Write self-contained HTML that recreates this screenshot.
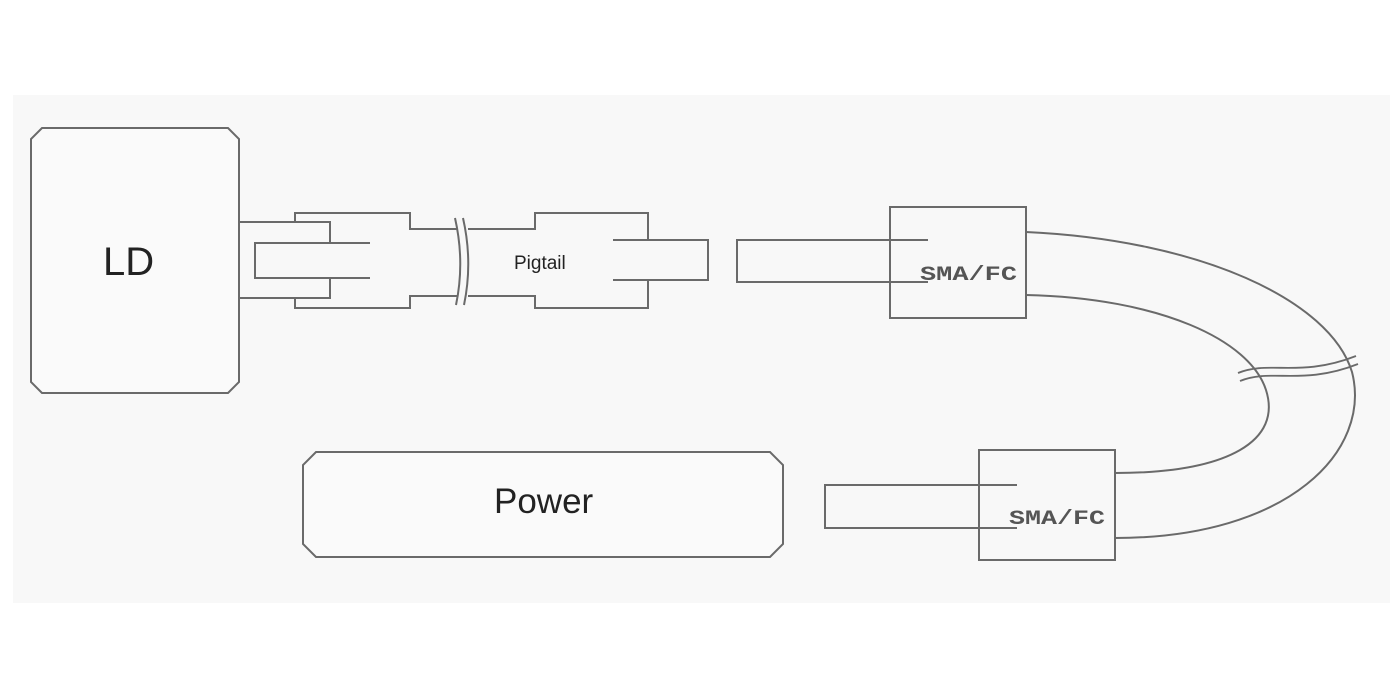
<!DOCTYPE html>
<html><head><meta charset="utf-8"><style>
html,body{margin:0;padding:0;background:#fff;width:1400px;height:700px;overflow:hidden}
svg{display:block}
</style></head><body>
<svg width="1400" height="700" viewBox="0 0 1400 700" xmlns="http://www.w3.org/2000/svg">
<rect x="0" y="0" width="1400" height="700" fill="#fff"/>
<rect x="13" y="95" width="1377" height="508" fill="#f8f8f8"/>
<g fill="none" stroke="#6a6a6a" stroke-width="2">
<path d="M42,128 L228,128 L239,139 L239,382 L228,393 L42,393 L31,382 L31,139 Z" fill="#fafafa"/>
<path d="M239,222 L330,222 L330,243 L255,243 L255,278 L330,278 L330,298 L239,298"/>
<path d="M330,243 L370,243 M330,278 L370,278"/>
<path d="M295,222 L295,213 L410,213 L410,229 L458,229"/>
<path d="M295,298 L295,308 L410,308 L410,296 L458,296"/>
<path d="M455,218 Q465,262 456,305"/>
<path d="M463,218 Q473,262 464,305"/>
<path d="M468,229 L535,229 L535,213 L648,213 L648,240 M468,296 L535,296 L535,308 L648,308 L648,280"/>
<path d="M613,240 L708,240 L708,280 L613,280"/>
<path d="M928,240 L737,240 L737,282 L928,282"/>
<rect x="890" y="207" width="136" height="111"/>
<path d="M1026,232 C1200,240 1330,300 1352,372 C1372,450 1290,538 1115,538"/>
<path d="M1026,295 C1160,298 1250,340 1266,390 C1282,440 1230,473 1115,473"/>
<path d="M1238,373 C1270,360 1300,378 1356,356" stroke-width="1.8"/>
<path d="M1240,381 C1272,368 1302,386 1358,364" stroke-width="1.8"/>
<rect x="979" y="450" width="136" height="110"/>
<path d="M1017,485 L825,485 L825,528 L1017,528"/>
<path d="M316,452 L770,452 L783,465 L783,544 L770,557 L316,557 L303,544 L303,465 Z" fill="#fafafa"/>
</g>
<g font-family="'Liberation Sans', sans-serif" fill="#222">
<text x="103" y="275" font-size="40">LD</text>
<text x="514" y="269" font-size="19">Pigtail</text>
<text x="494" y="513" font-size="35">Power</text>
</g>
<g font-family="'Liberation Mono', monospace" font-weight="bold" fill="#555" font-size="20">
<text x="920" y="280" textLength="97" lengthAdjust="spacingAndGlyphs">SMA/FC</text>
<text x="1009" y="524" textLength="96" lengthAdjust="spacingAndGlyphs">SMA/FC</text>
</g>
</svg>
</body></html>
